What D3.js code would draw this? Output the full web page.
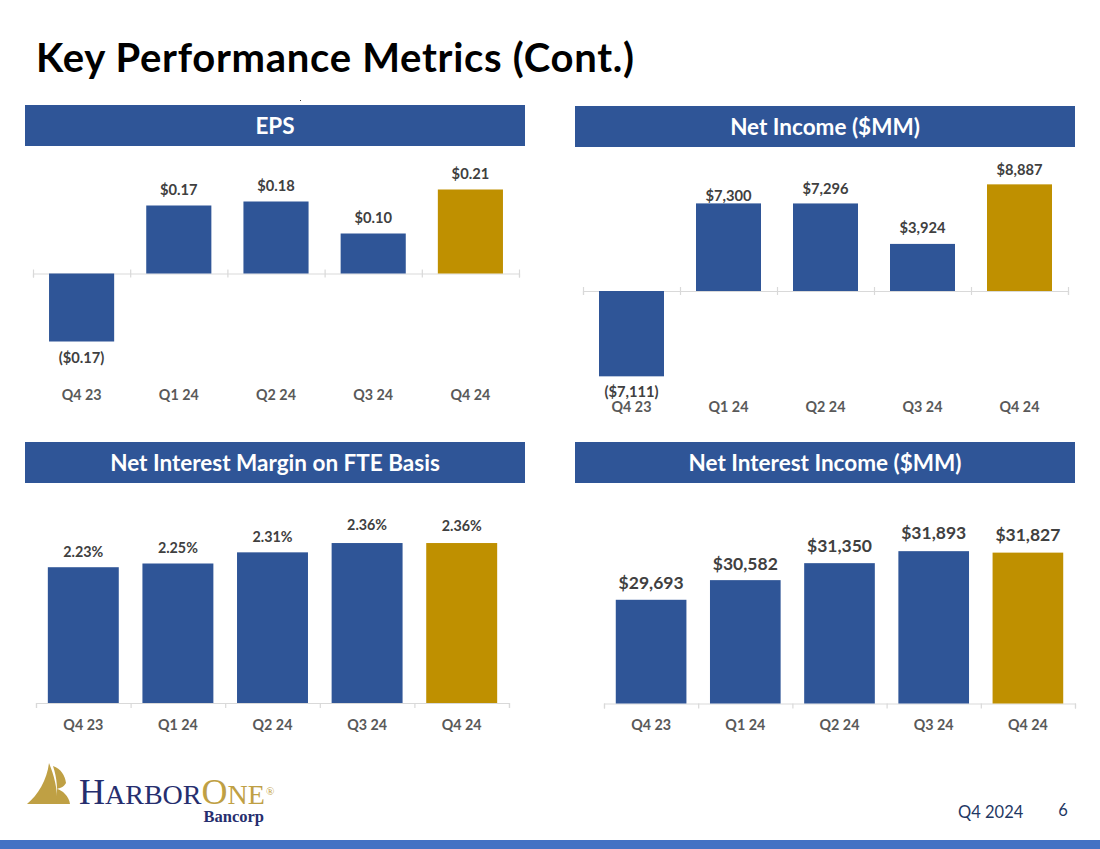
<!DOCTYPE html>
<html><head><meta charset="utf-8">
<script src="https://cdn.jsdelivr.net/npm/d3@7/dist/d3.min.js"></script>
<style>html,body{margin:0;padding:0;background:#fff}svg{display:block}text{font-family:Lato,"Open Sans",sans-serif}</style>
</head><body><svg id="c" width="1100" height="849"></svg>
<script>
const categories = ["Q4 23","Q1 24","Q2 24","Q3 24","Q4 24"];
const epsValues = [-0.17,0.17,0.18,0.10,0.21];
const netIncomeValues = [-7111,7300,7296,3924,8887];
const marginValues = [2.23,2.25,2.31,2.36,2.36];
const interestIncomeValues = [29693,30582,31350,31893,31827];
const panelTitles = ["EPS","Net Income ($MM)","Net Interest Margin on FTE Basis","Net Interest Income ($MM)"];
const BLUE="#2F5597", GOLD="#BF9000", GREY="#595959", DARK="#404040", NAVY="#1F3864";

const fmtMoney = (f)=>v=> v<0 ? "($"+f(-v)+")" : "$"+f(v);
const panels = [
 {values:epsValues,fmt:fmtMoney(d3.format(".2f")),head:[25,105],x:[33,519],pad:.33,y0:273.5,k:400,base:0,cat:395,fs:14.7,off:[16,16,16,16,16]},
 {values:netIncomeValues,fmt:fmtMoney(d3.format(",")),head:[575,106],x:[583,1068],pad:.33,y0:291,k:.01200,base:0,cat:407,fs:14.7,off:[16,8,15,16,15]},
 {values:marginValues,fmt:v=>d3.format(".2f")(v)+"%",head:[25,442],x:[36,509],pad:.25,y0:703,k:186,base:1.5,cat:725,fs:14.3,off:[15,16,15,18,17]},
 {values:interestIncomeValues,fmt:fmtMoney(d3.format(",")),head:[575,442],x:[604,1075],pad:.25,y0:703.5,k:.0221,base:25000,cat:725,fs:17.5,off:[17,16,17,18,18]}
];

const svg=d3.select("#c");
svg.append("text").attr("x",36).attr("y",72).attr("font-size",40).attr("font-weight",700).attr("letter-spacing",0.72).attr("fill","#000").text("Key Performance Metrics (Cont.)");
svg.append("circle").attr("cx",300.5).attr("cy",100.5).attr("r",0.5).attr("fill","#000");

panels.forEach((p,i)=>{
  const g=svg.append("g");
  g.append("rect").attr("x",p.head[0]).attr("y",p.head[1]).attr("width",500).attr("height",41).attr("fill",BLUE);
  g.append("text").attr("x",p.head[0]+250).attr("y",p.head[1]+29).attr("text-anchor","middle").attr("font-size",22.5).attr("font-weight",700).attr("fill","#fff").text(panelTitles[i]);

  const x=d3.scaleBand().domain(categories).range(p.x).paddingInner(p.pad).paddingOuter(p.pad/2);
  const maxV=d3.max(p.values), minV=Math.min(p.base,d3.min(p.values));
  const y=d3.scaleLinear().domain([minV,maxV]).range([p.y0+(p.base-minV)*p.k,p.y0-(maxV-p.base)*p.k]);

  // axis line with ticks on the category boundaries
  const edges=d3.scaleLinear().domain([0,categories.length]).range(p.x);
  const ax=g.append("g").attr("transform",`translate(0,${y(p.base)})`)
    .call(d3.axisBottom(edges).ticks(categories.length).tickFormat("").tickSize(i<2?4:5).tickSizeOuter(i<2?4:5));
  ax.selectAll("line,path").attr("stroke","#D9D9D9").attr("stroke-width",1.2);
  if(i<2) ax.selectAll("line").attr("y1",-4);

  g.selectAll("rect.bar").data(p.values).join("rect").attr("class","bar")
    .attr("x",(d,j)=>x(categories[j])).attr("width",x.bandwidth())
    .attr("y",d=>Math.min(y(d),y(p.base))).attr("height",d=>Math.abs(y(d)-y(p.base)))
    .attr("fill",(d,j)=>j===categories.length-1?GOLD:BLUE);

  g.selectAll("text.val").data(p.values).join("text").attr("class","val")
    .attr("x",(d,j)=>x(categories[j])+x.bandwidth()/2)
    .attr("y",(d,j)=>(d<0?y(d)+p.off[j]:y(d)-p.off[j]))
    .attr("dy","0.35em").attr("text-anchor","middle").attr("font-size",p.fs).attr("font-weight",700).attr("fill",DARK)
    .text(p.fmt);

  const catAxis=g.append("g").attr("transform",`translate(0,${p.cat})`)
    .call(d3.axisBottom(x).tickSize(0).tickPadding(0));
  catAxis.select("path").remove();
  catAxis.selectAll("text").attr("y",0).attr("dy","0.35em").attr("font-size",14.3).attr("font-weight",700).attr("fill",GREY).attr("style","font-family:Lato,sans-serif");
});

// footer
svg.append("rect").attr("x",0).attr("y",840).attr("width",1100).attr("height",9).attr("fill","#4472C4");
svg.append("text").attr("x",958).attr("y",818).attr("font-size",16.5).attr("fill",NAVY).text("Q4 2024");
svg.append("text").attr("x",1063).attr("y",816).attr("text-anchor","middle").attr("font-size",16.5).attr("fill",NAVY).text("6");

// logo
const logo=svg.append("g");
const LG="#BFA044", LN="#262E6E";
logo.append("path").attr("fill",LG).attr("d","M27 804 C38 795 47 780 49 763 C54 775 58 790 57 804 Z");
logo.append("path").attr("fill",LG).attr("d","M53 766 C61 769 65 775 66 783 C64 787 60 788 57 789 C62 790 69 796 70 804 L56 804 C58 790 57 778 53 766 Z");
const serif="'Liberation Serif',serif";
const word=logo.append("text").attr("x",79).attr("y",804).attr("style",`font-family:${serif}`).attr("fill",LN);
word.append("tspan").attr("font-size",36).text("H");
word.append("tspan").attr("font-size",28).text("ARBOR");
word.append("tspan").attr("font-size",36).attr("fill",LG).text("O");
word.append("tspan").attr("font-size",28).attr("fill",LG).text("NE");
logo.append("text").attr("x",266).attr("y",795).attr("style",`font-family:${serif}`).attr("font-size",11).attr("fill",LG).text("®");
logo.append("text").attr("x",264).attr("y",822).attr("text-anchor","end").attr("style",`font-family:${serif}`).attr("font-size",16.5).attr("font-weight",700).attr("fill",LN).text("Bancorp");
</script></body></html>
